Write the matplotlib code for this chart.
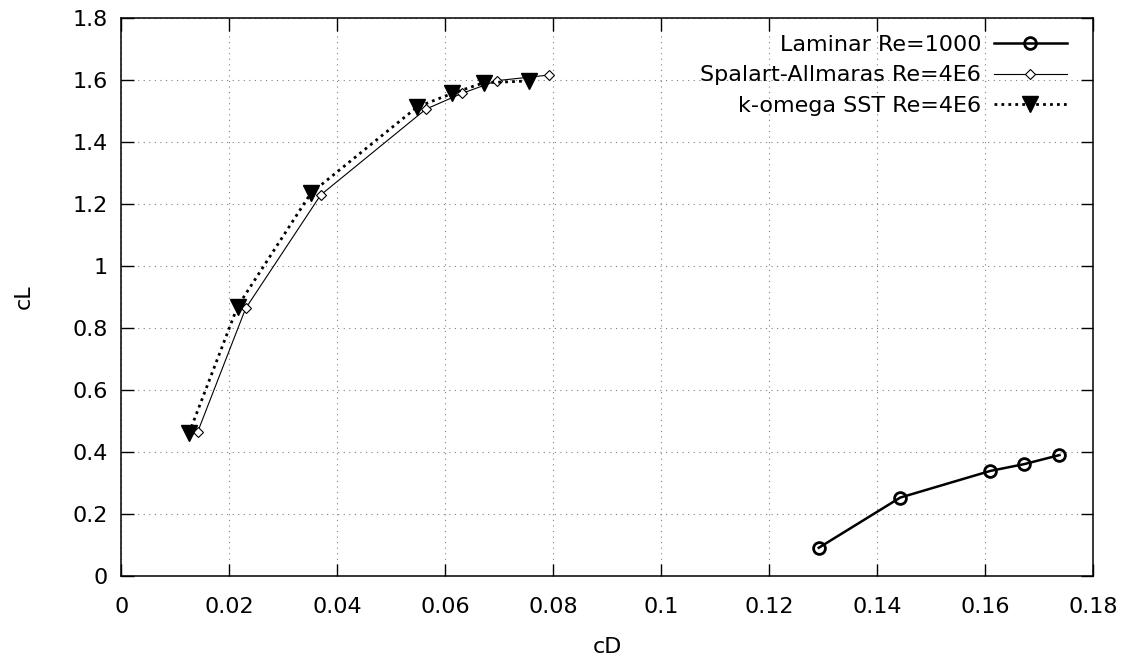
import matplotlib
matplotlib.use("Agg")
import matplotlib.pyplot as plt

# data
lam_cd = [0.1292, 0.1443, 0.1610, 0.1673, 0.1738]
lam_cl = [0.090, 0.252, 0.338, 0.360, 0.389]

sa_cd = [0.0141, 0.0230, 0.0369, 0.0564, 0.0631, 0.0696, 0.0792]
sa_cl = [0.463, 0.862, 1.228, 1.505, 1.556, 1.597, 1.615]

kw_cd = [0.0125, 0.0215, 0.0351, 0.0548, 0.0613, 0.0671, 0.0755]
kw_cl = [0.459, 0.868, 1.234, 1.512, 1.556, 1.590, 1.596]

plt.rcParams['font.family'] = ['DejaVu Sans']
plt.rcParams['font.size'] = 16

fig = plt.figure(figsize=(11.28, 6.68), dpi=100)
ax = fig.add_axes([0.1077, 0.1382, 0.8612, 0.8353])

ax.plot(lam_cd, lam_cl, color='black', lw=1.8, marker='o', ms=8.5,
        mfc='none', mec='black', mew=2, label='Laminar Re=1000')
ax.plot(sa_cd, sa_cl, color='black', lw=0.8, marker='D', ms=5,
        mfc='white', mec='black', mew=0.8, label='Spalart-Allmaras Re=4E6')
ax.plot(kw_cd, kw_cl, color='black', lw=2, linestyle=(0, (1, 1.5)),
        marker='v', ms=12, mfc='black', mec='black',
        label='k-omega SST Re=4E6')

ax.set_xlim(0, 0.18)
ax.set_ylim(0, 1.8)
ax.set_xticks([0, 0.02, 0.04, 0.06, 0.08, 0.1, 0.12, 0.14, 0.16, 0.18])
ax.set_xticklabels(['0', '0.02', '0.04', '0.06', '0.08', '0.1', '0.12',
                    '0.14', '0.16', '0.18'])
ax.set_yticks([0, 0.2, 0.4, 0.6, 0.8, 1, 1.2, 1.4, 1.6, 1.8])
ax.set_yticklabels(['0', '0.2', '0.4', '0.6', '0.8', '1', '1.2', '1.4',
                    '1.6', '1.8'])

ax.grid(True, color='#808080', lw=0.8, linestyle=(0, (1, 4)))
ax.tick_params(direction='in', length=9, width=1, top=True, right=True,
               colors='black', labelsize=16)
ax.tick_params(axis='x', pad=15)
ax.tick_params(axis='y', pad=10)
for s in ax.spines.values():
    s.set_linewidth(1.1)

ax.set_xlabel('cD', labelpad=15)
ax.set_ylabel('cL', labelpad=28)

ax.legend(loc='upper right', bbox_to_anchor=(0.9732, 0.969),
          frameon=False, markerfirst=False, borderpad=0, borderaxespad=0,
          handlelength=3.3, handletextpad=0.55, labelspacing=0.47,
          numpoints=1)

fig.savefig('out.png', dpi=100)
